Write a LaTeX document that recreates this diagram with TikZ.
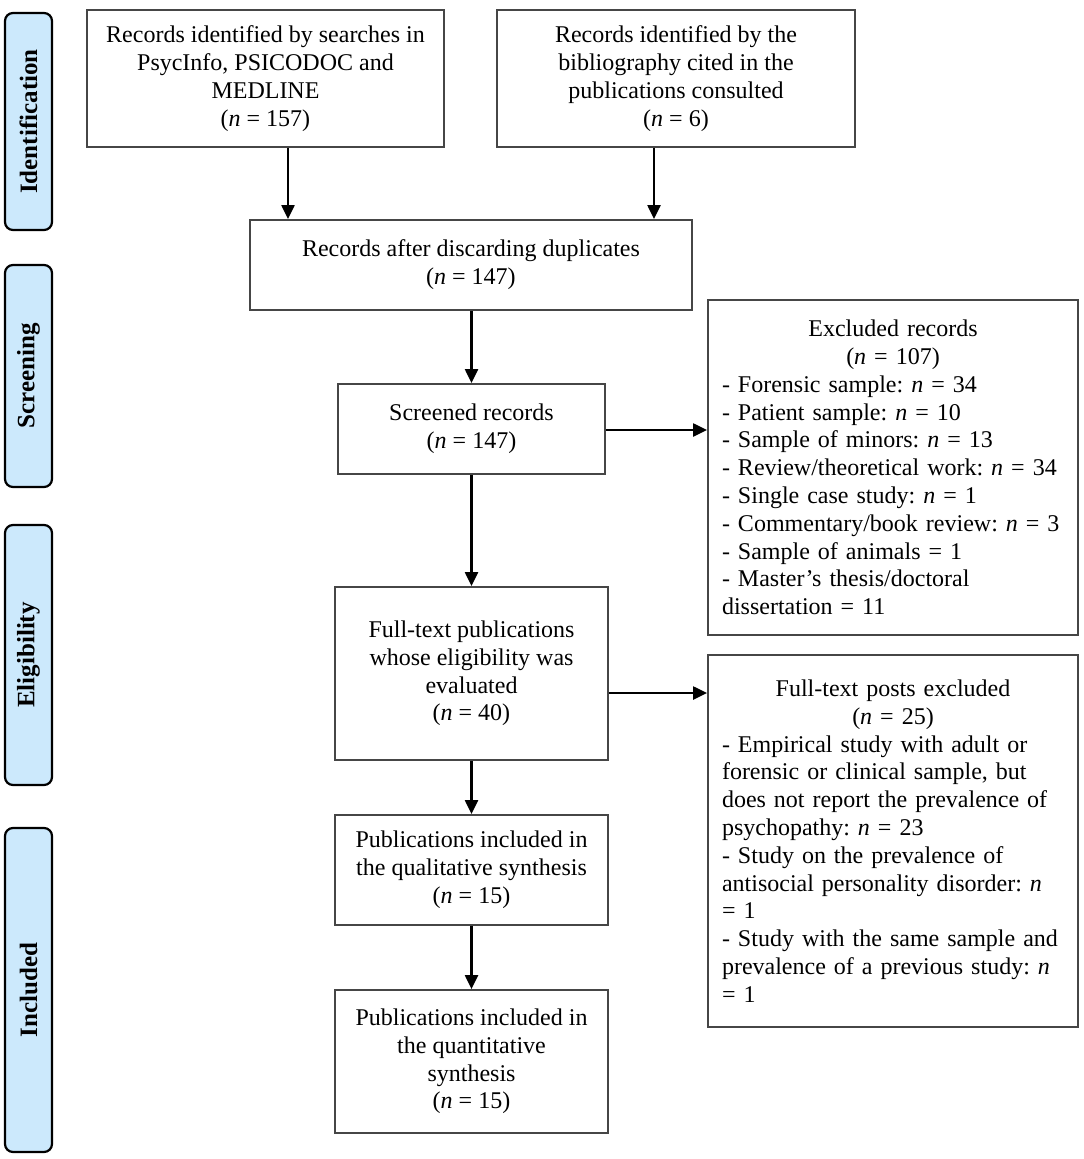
\documentclass[tikz,border=0pt]{standalone}
\usepackage{fontspec}
\setmainfont{Liberation Serif}
\usetikzlibrary{arrows.meta}
\definecolor{sidefill}{RGB}{204,233,252}
\definecolor{boxline}{RGB}{70,70,70}
\frenchspacing
\begin{document}
\begin{tikzpicture}[x=1pt,y=-1pt,
  box/.style={draw=boxline, line width=1.8pt, align=center, inner sep=4pt,
    font=\fontsize{24}{27.8}\selectfont},
  listbox/.style={draw=boxline, line width=1.8pt, align=left, inner xsep=14pt, inner ysep=4pt,
    text width=342pt, minimum width=370pt, font=\fontsize{24}{27.8}\selectfont},
  sidebox/.style={draw=black, line width=2.2pt, fill=sidefill, rounded corners=8pt,
    minimum height=47pt, rotate=90, font=\bfseries\fontsize{25}{28}\selectfont},
  arr/.style={-{Triangle[length=14pt,width=13pt]}, line width=2.2pt}]
\useasboundingbox (0,0) rectangle (1084,1159);

% side labels
\node[sidebox, minimum width=217pt] (sid) at (28.5,121.5) {Identification};
\node[sidebox, minimum width=222pt] (sscr) at (28.5,376) {Screening};
\node[sidebox, minimum width=260pt] (selig) at (28.5,655) {Eligibility};
\node[sidebox, minimum width=324pt] (sinc) at (28.5,990) {Included};

% boxes
\node[box, minimum width=357pt, minimum height=137pt] (A) at (265.5,78.5)
  {Records identified by searches in\\ PsycInfo, PSICODOC and\\ MEDLINE\\ (\textit{n} = 157)};
\node[box, minimum width=358pt, minimum height=137pt] (B) at (676,78.5)
  {Records identified by the\\ bibliography cited in the\\ publications consulted\\ (\textit{n} = 6)};
\node[box, minimum width=442pt, minimum height=90pt] (C) at (471,265)
  {Records after discarding duplicates\\ (\textit{n} = 147)};
\node[box, minimum width=267pt, minimum height=90pt] (D) at (471.5,429)
  {Screened records\\ (\textit{n} = 147)};
\node[listbox, minimum height=335pt] (E) at (893,467.5)
  {\centering Excluded records\\ (\textit{n} = 107)\par\raggedright
   - Forensic sample: \textit{n} = 34\\
   - Patient sample: \textit{n} = 10\\
   - Sample of minors: \textit{n} = 13\\
   - Review/theoretical work: \textit{n} = 34\\
   - Single case study: \textit{n} = 1\\
   - Commentary/book review: \textit{n} = 3\\
   - Sample of animals = 1\\
   - Master’s thesis/doctoral\\
   dissertation = 11};
\node[box, minimum width=273pt, minimum height=173pt] (F) at (471.5,673.5)
  {Full-text publications\\ whose eligibility was\\ evaluated\\ (\textit{n} = 40)};
\node[listbox, minimum height=372pt] (G) at (893,841)
  {\centering Full-text posts excluded\\ (\textit{n} = 25)\par\raggedright
   - Empirical study with adult or\\
   forensic or clinical sample, but\\
   does not report the prevalence of\\
   psychopathy: \textit{n} = 23\\
   - Study on the prevalence of\\
   antisocial personality disorder: \textit{n}\\
   = 1\\
   - Study with the same sample and\\
   prevalence of a previous study: \textit{n}\\
   = 1};
\node[box, minimum width=273pt, minimum height=110pt] (H) at (471.5,870)
  {Publications included in\\ the qualitative synthesis\\ (\textit{n} = 15)};
\node[box, minimum width=273pt, minimum height=143pt] (I) at (471.5,1061.5)
  {Publications included in\\ the quantitative\\ synthesis\\ (\textit{n} = 15)};

% connectors
\draw[arr] ([xshift=22.5pt]A.south) -- ([xshift=22.5pt]A.south |- C.north);
\draw[arr] ([xshift=-22pt]B.south) -- ([xshift=-22pt]B.south |- C.north);
\draw[arr] (D.north |- C.south) -- (D.north);
\draw[arr] ([yshift=-1pt]D.east) -- ([yshift=-1pt]D.east -| E.west);
\draw[arr] (D.south) -- (F.north);
\draw[arr] ([yshift=-19.5pt]F.east) -- ([yshift=-19.5pt]F.east -| G.west);
\draw[arr] (F.south) -- (H.north);
\draw[arr] (H.south) -- (I.north);
\end{tikzpicture}
\end{document}
